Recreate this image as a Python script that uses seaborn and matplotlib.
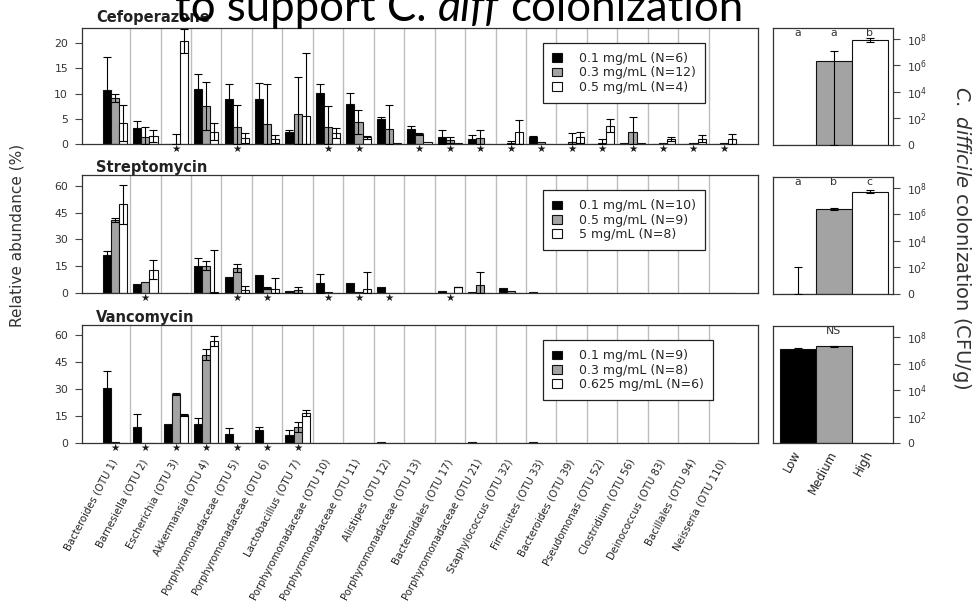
import numpy as np
import pandas as pd
import matplotlib
matplotlib.use("Agg")
import matplotlib.pyplot as plt
import matplotlib.transforms as mtransforms
from matplotlib.container import BarContainer
import seaborn as sns

# ---------------------------------------------------------------- data
taxa = [
    "Bacteroides (OTU 1)", "Barnesiella (OTU 2)", "Escherichia (OTU 3)",
    "Akkermansia (OTU 4)", "Porphyromonadaceae (OTU 5)",
    "Porphyromonadaceae (OTU 6)", "Lactobacillus (OTU 7)",
    "Porphyromonadaceae (OTU 10)", "Porphyromonadaceae (OTU 11)",
    "Alistipes (OTU 12)", "Porphyromonadaceae (OTU 13)",
    "Bacteroidales (OTU 17)", "Porphyromonadaceae (OTU 21)",
    "Staphylococcus (OTU 32)", "Firmicutes (OTU 33)",
    "Bacteroides (OTU 39)", "Pseudomonas (OTU 52)", "Clostridium (OTU 56)",
    "Deinococcus (OTU 83)", "Bacillales (OTU 94)", "Neisseria (OTU 110)",
]

# Cefoperazone: mean relative abundance (%) and top of error bar
cef_doses = ["0.1 mg/mL (N=6)", "0.3 mg/mL (N=12)", "0.5 mg/mL (N=4)"]
cef_low = [10.7, 3.1, 0.0, 11.0, 9.0, 8.9, 2.3, 10.1, 8.0, 4.9, 2.9,
           1.4, 1.0, 0.0, 1.4, 0.0, 0.0, 0.1, 0.0, 0.0, 0.0]
cef_low_top = [17.3, 4.5, 0.0, 13.8, 11.8, 12.1, 2.8, 11.8, 10.1, 5.4, 3.6,
               2.8, 1.8, 0.0, 1.5, 0.0, 0.0, 0.1, 0.0, 0.0, 0.0]
cef_mid = [9.2, 1.3, 0.0, 7.5, 3.4, 3.9, 6.0, 3.4, 4.4, 2.9, 2.0,
           0.8, 1.2, 0.1, 0.3, 0.3, 0.2, 2.4, 0.1, 0.1, 0.1]
cef_mid_top = [10.0, 3.3, 2.0, 12.3, 7.7, 11.9, 13.3, 7.5, 6.8, 7.7, 2.2,
               1.4, 2.8, 0.6, 0.3, 2.1, 1.0, 5.4, 0.1, 0.1, 0.1]
cef_high = [4.1, 1.6, 20.5, 2.4, 1.1, 1.0, 5.5, 2.1, 1.3, 0.2, 0.4,
            0.2, 0.0, 2.3, 0.0, 1.3, 3.6, 0.1, 1.0, 1.0, 1.0]
cef_high_top = [7.7, 2.8, 22.9, 4.1, 2.1, 1.8, 18.0, 3.1, 1.6, 0.2, 0.4,
                0.2, 0.0, 4.7, 0.0, 2.4, 4.9, 0.1, 1.4, 1.7, 2.0]
cef_stars = [2, 4, 7, 8, 10, 11, 12, 13, 14, 15, 16, 17, 18, 19, 20]

# Streptomycin
str_doses = ["0.1 mg/mL (N=10)", "0.5 mg/mL (N=9)", "5 mg/mL (N=8)"]
str_low = [21.0, 4.9, 0.0, 15.2, 8.7, 9.8, 1.3, 5.4, 5.4, 3.6, 0.0,
           1.1, 0.6, 2.6, 0.3, 0.0, 0.0, 0.0, 0.0, 0.0, 0.0]
str_low_top = [23.3, 4.9, 0.0, 19.5, 8.7, 9.8, 1.3, 10.9, 5.4, 3.6, 0.0,
               1.1, 0.6, 2.6, 0.3, 0.0, 0.0, 0.0, 0.0, 0.0, 0.0]
str_mid = [40.9, 6.4, 0.0, 15.2, 13.9, 3.0, 1.7, 0.6, 0.3, 0.0, 0.0,
           0.0, 4.2, 1.1, 0.0, 0.0, 0.0, 0.0, 0.0, 0.0, 0.0]
str_mid_top = [42.2, 6.4, 0.0, 17.7, 16.1, 3.6, 3.4, 0.6, 0.3, 0.0, 0.0,
               0.0, 12.0, 1.1, 0.0, 0.0, 0.0, 0.0, 0.0, 0.0, 0.0]
str_high = [49.7, 12.9, 0.0, 0.5, 1.7, 2.2, 0.0, 0.2, 2.1, 0.0, 0.0,
            3.4, 0.0, 0.0, 0.0, 0.0, 0.0, 0.0, 0.0, 0.0, 0.0]
str_high_top = [60.6, 18.2, 0.0, 23.8, 3.9, 8.3, 0.0, 0.2, 12.0, 0.0, 0.0,
                3.6, 0.0, 0.0, 0.0, 0.0, 0.0, 0.0, 0.0, 0.0, 0.0]
str_stars = [1, 4, 5, 7, 8, 9, 11]

# Vancomycin
van_doses = ["0.1 mg/mL (N=9)", "0.3 mg/mL (N=8)", "0.625 mg/mL (N=6)"]
van_low = [30.6, 8.9, 10.8, 10.4, 5.2, 7.1, 4.3, 0.2, 0.0, 0.8, 0.0,
           0.0, 0.8, 0.0, 0.3, 0.0, 0.0, 0.0, 0.0, 0.0, 0.0]
van_low_top = [39.8, 15.9, 10.8, 13.9, 8.5, 8.9, 7.1, 0.2, 0.0, 0.8, 0.0,
               0.0, 0.8, 0.0, 0.3, 0.0, 0.0, 0.0, 0.0, 0.0, 0.0]
van_mid = [0.3, 0.0, 27.4, 49.1, 0.0, 0.2, 8.9, 0.0, 0.0, 0.0, 0.0,
           0.0, 0.2, 0.0, 0.0, 0.0, 0.0, 0.0, 0.0, 0.0, 0.0]
van_mid_top = [0.3, 0.0, 28.0, 52.4, 0.0, 0.2, 11.7, 0.0, 0.0, 0.0, 0.0,
               0.0, 0.2, 0.0, 0.0, 0.0, 0.0, 0.0, 0.0, 0.0, 0.0]
van_high = [0.0, 0.0, 15.4, 56.7, 0.0, 0.0, 16.7, 0.0, 0.0, 0.0, 0.0,
            0.0, 0.0, 0.0, 0.0, 0.0, 0.0, 0.0, 0.0, 0.0, 0.0]
van_high_top = [0.0, 0.0, 16.0, 59.3, 0.0, 0.0, 18.5, 0.0, 0.0, 0.0, 0.0,
                0.0, 0.0, 0.0, 0.0, 0.0, 0.0, 0.0, 0.0, 0.0, 0.0]
van_stars = [0, 1, 2, 3, 4, 5, 6]

# C. difficile colonization, log10 CFU/g (0 = not detected)
col_groups = ["Low", "Medium", "High"]
cef_col = [0.0, 6.3, 7.9]
cef_col_lo = [0.0, 0.0, 7.75]
cef_col_hi = [0.0, 7.1, 8.05]
cef_letters = ["a", "a", "b"]
str_col = [0.0, 6.4, 7.7]
str_col_lo = [0.0, 6.3, 7.6]
str_col_hi = [2.0, 6.5, 7.85]
str_letters = ["a", "b", "c"]
van_col = [7.1, 7.3, 0.0]
van_col_lo = [7.0, 7.25, 0.0]
van_col_hi = [7.2, 7.35, 0.0]

# ---------------------------------------------------------------- style
sns.set_theme(style="white")
plt.rcParams["font.family"] = ["DejaVu Sans"]
plt.rcParams["mathtext.fontset"] = "custom"
plt.rcParams["mathtext.rm"] = "DejaVu Sans"
plt.rcParams["mathtext.it"] = "DejaVu Sans:italic"

FILL = ["#000000", "#a3a3a3", "#ffffff"]
EDGE = "#111111"
TICKC = "#333333"
W, H = 980, 616

fig = plt.figure(figsize=(W / 100, H / 100), dpi=100)


def px_axes(left, top, width, height):
    return fig.add_axes([left / W, 1 - (top + height) / H, width / W, height / H])


def style_frame(ax):
    for s in ax.spines.values():
        s.set_visible(True)
        s.set_color("#333333")
        s.set_linewidth(0.9)


def abundance_panel(ax, means, tops, doses, ymax, stars, show_labels):
    frames = []
    for dose, vals in zip(doses, means):
        frames.append(pd.DataFrame({"taxon": taxa, "dose": dose, "value": vals}))
    df = pd.concat(frames, ignore_index=True)
    sns.barplot(data=df, x="taxon", y="value", hue="dose", order=taxa,
                hue_order=doses, palette=FILL, saturation=1, width=0.8,
                edgecolor=EDGE, linewidth=0.8, errorbar=None, ax=ax, zorder=2)
    bar_sets = [c for c in ax.containers if isinstance(c, BarContainer)]
    for k, cont in enumerate(bar_sets):
        for j, bar in enumerate(cont):
            m = bar.get_height()
            up = tops[k][j] - m
            if up <= 0.05:
                continue
            lo = min(up, m)
            ax.errorbar(bar.get_x() + bar.get_width() / 2, m,
                        yerr=[[lo], [up]], fmt="none", ecolor="black",
                        elinewidth=0.8, capsize=2.6, capthick=0.8, zorder=3)
    for i in range(len(taxa) - 1):
        ax.axvline(i + 0.5, color="#bdbdbd", lw=1.0, zorder=0)
    ax.set_xlim(-1.08, len(taxa) - 1 + 1.12)
    ax.set_ylim(0, ymax)
    ax.set_xlabel("")
    ax.set_ylabel("")
    style_frame(ax)
    ticks = [0, 5, 10, 15, 20] if ymax < 30 else [0, 15, 30, 45, 60]
    ax.set_yticks(ticks)
    ax.tick_params(axis="y", left=True, length=5, width=0.8, color="#444444",
                   labelsize=7.8, labelcolor=TICKC, pad=5)
    trans = mtransforms.blended_transform_factory(ax.transData, ax.transAxes)
    for i in stars:
        ax.text(i, -0.045, "\u2605", transform=trans, ha="center", va="center",
                fontsize=7.5, color="#1a1a1a")
    if show_labels:
        ax.set_xticks(range(len(taxa)))
        ax.set_xticklabels(taxa, rotation=62, ha="right", va="center",
                           rotation_mode="anchor", fontsize=7.3, color="#222222")
        ax.tick_params(axis="x", length=0, pad=12)
    else:
        ax.set_xticks([])
    handles, labels = ax.get_legend_handles_labels()
    ax.legend(handles, labels, loc="upper left", bbox_to_anchor=(0.682, 0.872),
              frameon=True, fancybox=False, edgecolor="#222222", framealpha=1,
              fontsize=9, handlelength=0.8, handleheight=0.7,
              handletextpad=1.3, labelspacing=0.1, borderpad=0.75,
              borderaxespad=0)
    ax.get_legend().get_frame().set_linewidth(0.9)


def colonization_panel(ax, vals, lo, hi, letters, show_labels):
    df = pd.DataFrame({"group": col_groups, "value": vals})
    sns.barplot(data=df, x="group", y="value", hue="group", order=col_groups,
                hue_order=col_groups, palette=FILL, saturation=1, width=1.0,
                edgecolor=EDGE, linewidth=0.8, errorbar=None, legend=False,
                ax=ax, zorder=2)
    for j in range(3):
        if hi[j] > lo[j]:
            ax.errorbar(j, vals[j], yerr=[[vals[j] - lo[j]], [hi[j] - vals[j]]],
                        fmt="none", ecolor="black", elinewidth=0.8,
                        capsize=3.2, capthick=0.8, zorder=3)
    ax.set_xlim(-0.69, 2.65)
    ax.set_ylim(0, 8.85)
    ax.set_xlabel("")
    ax.set_ylabel("")
    style_frame(ax)
    ax.yaxis.tick_right()
    ax.set_yticks([0, 2, 4, 6, 8])
    ax.set_yticklabels(["0", "$10^2$", "$10^4$", "$10^6$", "$10^8$"])
    ax.tick_params(axis="y", right=True, left=False, length=5, width=0.8,
                   color="#444444", labelsize=7.8, labelcolor=TICKC, pad=5)
    if isinstance(letters, str):
        ax.text(1, 8.45, letters, ha="center", va="center", fontsize=7.8,
                color=TICKC)
    else:
        for j, s in enumerate(letters):
            ax.text(j, 8.45, s, ha="center", va="center", fontsize=7.8,
                    color=TICKC)
    if show_labels:
        ax.set_xticks(range(3))
        ax.set_xticklabels(col_groups, rotation=62, ha="right", va="center",
                           rotation_mode="anchor", fontsize=8.5, color="#222222")
        ax.tick_params(axis="x", length=0, pad=6)
    else:
        ax.set_xticks([])


ax1 = px_axes(82, 28, 676, 116)
ax2 = px_axes(82, 175, 676, 118)
ax3 = px_axes(82, 325, 676, 118)
abundance_panel(ax1, [cef_low, cef_mid, cef_high],
                [cef_low_top, cef_mid_top, cef_high_top], cef_doses, 23,
                cef_stars, False)
abundance_panel(ax2, [str_low, str_mid, str_high],
                [str_low_top, str_mid_top, str_high_top], str_doses, 66,
                str_stars, False)
abundance_panel(ax3, [van_low, van_mid, van_high],
                [van_low_top, van_mid_top, van_high_top], van_doses, 65.5,
                van_stars, True)

bx1 = px_axes(773, 27.5, 120, 117.5)
bx2 = px_axes(773, 176.5, 120, 117)
bx3 = px_axes(773, 326, 120, 117)
colonization_panel(bx1, cef_col, cef_col_lo, cef_col_hi, cef_letters, False)
colonization_panel(bx2, str_col, str_col_lo, str_col_hi, str_letters, False)
colonization_panel(bx3, van_col, van_col_lo, van_col_hi, "NS", True)

# panel names
for name, ybase in [("Cefoperazone", 22), ("Streptomycin", 172),
                    ("Vancomycin", 322)]:
    fig.text(96 / W, 1 - ybase / H, name, fontsize=10.5, fontweight="bold",
             color="#222222", va="baseline", ha="left")

# axis titles
fig.text(17 / W, 1 - 235 / H, "Relative abundance (%)", rotation=90,
         ha="center", va="center", fontsize=11, color="#333333")
fig.text(961 / W, 1 - 238 / H,
         r"$\mathit{C.\ difficile}$ colonization (CFU/g)", rotation=-90,
         ha="center", va="center", fontsize=14, color="#333333")

# heading line above the panels, with the genus abbreviation in italics
renderer = fig.canvas.get_renderer()
head_kw = dict(fontsize=31.5, family="Lato", color="black", va="baseline")


def text_width(s, **kw):
    t = fig.text(0, 0, s, **kw)
    w = t.get_window_extent(renderer=renderer).width
    t.remove()
    return w


space = text_width("o o", **head_kw) - text_width("oo", **head_kw)
x = 175.0
y = 1 - 21 / H
for piece, style in [("to support C.", "normal"), ("diff", "italic"),
                     ("colonization", "normal")]:
    t = fig.text(x / W, y, piece, style=style, **head_kw)
    x = t.get_window_extent(renderer=renderer).x1 + space

fig.savefig("out.png", dpi=100)
